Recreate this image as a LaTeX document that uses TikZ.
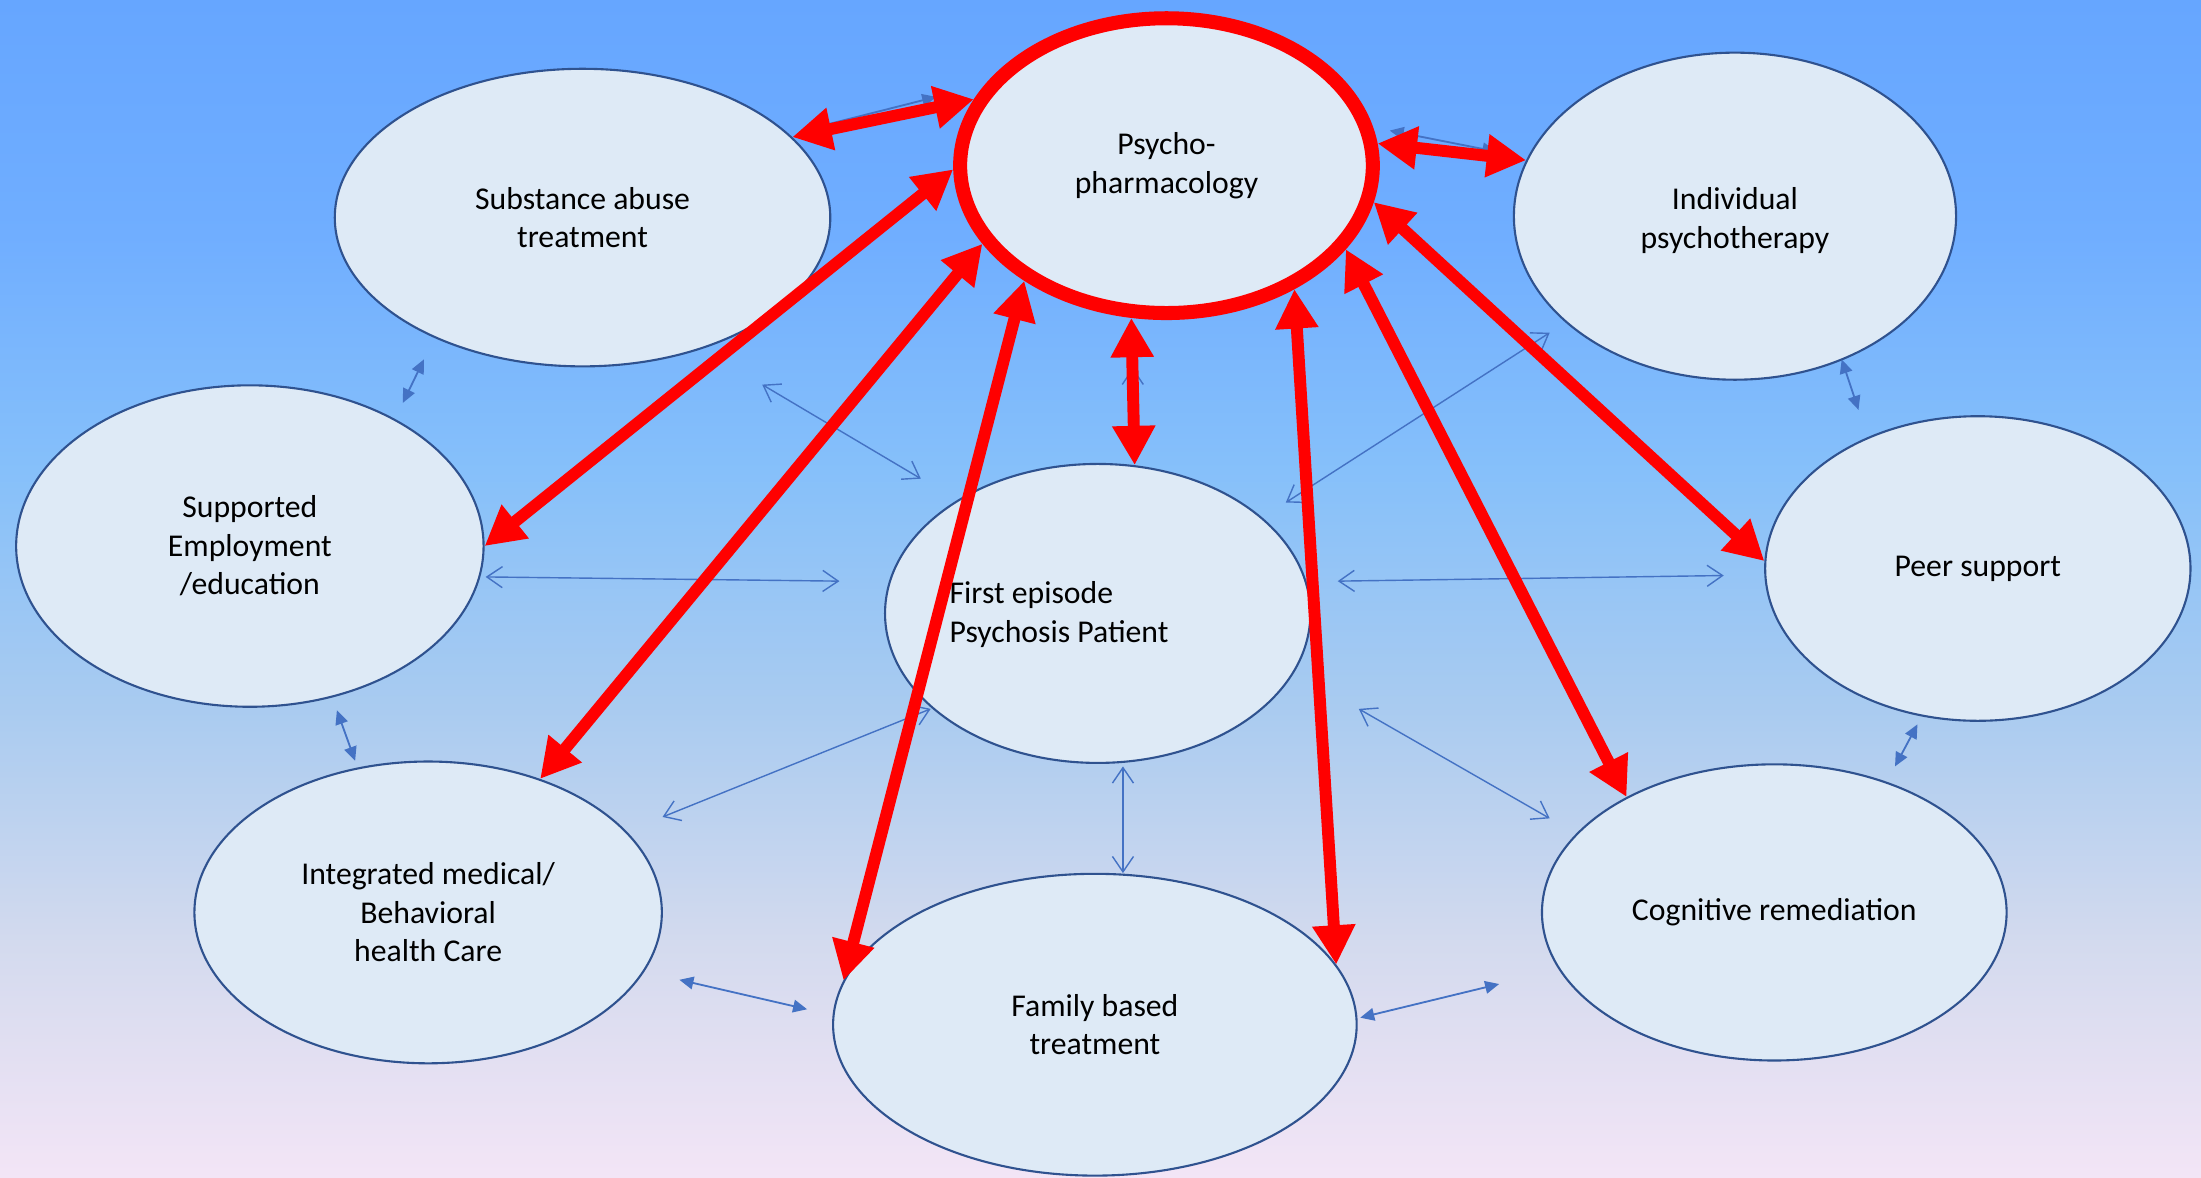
\documentclass[tikz,border=0pt]{standalone}
\usepackage{fontspec}
\setmainfont{Carlito}
\usetikzlibrary{shapes.geometric,arrows.meta}
\definecolor{bgA}{HTML}{66A6FF}
\definecolor{bgF}{HTML}{70AEFF}
\definecolor{bgB}{HTML}{86C0FA}
\definecolor{bgC}{HTML}{A9CBF0}
\definecolor{bgD}{HTML}{D3DAEE}
\definecolor{bgE}{HTML}{F3E5F6}
\definecolor{bubfill}{HTML}{DEEAF6}
\definecolor{bubline}{HTML}{2F528F}
\definecolor{thinblue}{HTML}{4472C4}
\pgfdeclareverticalshading{bgshade}{100bp}{color(0bp)=(bgE); color(25bp)=(bgE); color(35bp)=(bgD); color(45bp)=(bgC); color(55bp)=(bgB); color(65bp)=(bgF); color(75bp)=(bgA); color(100bp)=(bgA)}
\begin{document}
\begin{tikzpicture}[x=1pt,y=-1pt,
  txt/.style={font=\fontsize{22.6}{27.5}\selectfont, align=center, text=black},
  bubble/.style={ellipse, draw=bubline, line width=1.5pt, fill=bubfill, inner sep=0pt, txt},
  hub/.style={ellipse, draw=red, line width=10pt, fill=bubfill, inner sep=0pt, txt},
  redarrow/.style={draw=red, line width=8.5pt, arrows={Triangle[length=28pt,width=29pt]-Triangle[length=28pt,width=29pt]}},
  filledarrow/.style={draw=thinblue, line width=1.3pt, arrows={Triangle[length=10pt,width=9pt]-Triangle[length=10pt,width=9pt]}},
  openarrow/.style={draw=thinblue, line width=1pt, arrows={Straight Barb[length=11pt,width=15pt]-Straight Barb[length=11pt,width=15pt]}}
]
\shade[shading=bgshade] (0,0) rectangle (1568,839);
\useasboundingbox (0,0) rectangle (1568,839);

% ellipses
\node[hub, minimum width=294pt, minimum height=210pt] (psy) at (831,118) {Psycho-\\pharmacology};
\node[bubble, minimum width=353pt, minimum height=212pt] (sub) at (415,155) {Substance abuse\\treatment};
\node[bubble, minimum width=315pt, minimum height=233pt] (ind) at (1236,154) {};
\node[txt] (indlbl) at (1236,157) {Individual\\psychotherapy};
\node[bubble, minimum width=333pt, minimum height=229pt] (sup) at (178,389) {Supported\\Employment\\/education};
\node[bubble, minimum width=303pt, minimum height=213pt] (first) at (782,437) {};
\node[txt, align=left, anchor=west] (firstlbl) at (673,438) {First episode\\Psychosis Patient};
\node[bubble, minimum width=303pt, minimum height=217pt] (peer) at (1409,405) {Peer support};
\node[bubble, minimum width=333pt, minimum height=215pt] (int) at (305,650) {Integrated medical/\\Behavioral\\health Care};
\node[bubble, minimum width=373pt, minimum height=215pt] (fam) at (780,730) {Family based\\treatment};
\node[bubble, minimum width=331pt, minimum height=211pt] (cog) at (1264,650) {Cognitive remediation};

% thin connector end points
\coordinate (f1a) at (576,92);   \coordinate (f1b) at (667,69);
\coordinate (f2a) at (990,93);   \coordinate (f2b) at (1066,108);
\coordinate (f3a) at (302,256);  \coordinate (f3b) at (287,287);
\coordinate (f4a) at (1312,256); \coordinate (f4b) at (1324,292);
\coordinate (f5a) at (240,506);  \coordinate (f5b) at (253,542);
\coordinate (f6a) at (1366,516); \coordinate (f6b) at (1350,546);
\coordinate (f7a) at (484,698);  \coordinate (f7b) at (575,719);
\coordinate (f8a) at (969,725);  \coordinate (f8b) at (1068,701);
\coordinate (o1a) at (346,411);  \coordinate (o1b) at (598,414);
\coordinate (o2a) at (953,414);  \coordinate (o2b) at (1228,410);
\coordinate (o3a) at (543,274);  \coordinate (o3b) at (656,341);
\coordinate (o4a) at (916,358);  \coordinate (o4b) at (1104,237);
\coordinate (o5a) at (472,582);  \coordinate (o5b) at (663,505);
\coordinate (o6a) at (968,505);  \coordinate (o6b) at (1104,583);
\coordinate (o7a) at (800,546);  \coordinate (o7b) at (800,622);
\coordinate (o8a) at (807,262);  \coordinate (o8b) at (807,318);

% thin blue connectors
\draw[filledarrow] (f1a) -- (f1b);
\draw[filledarrow] (f2a) -- (f2b);
\draw[filledarrow] (f3a) -- (f3b);
\draw[filledarrow] (f4a) -- (f4b);
\draw[filledarrow] (f5a) -- (f5b);
\draw[filledarrow] (f6a) -- (f6b);
\draw[filledarrow] (f7a) -- (f7b);
\draw[filledarrow] (f8a) -- (f8b);
\draw[openarrow] (o1a) -- (o1b);
\draw[openarrow] (o2a) -- (o2b);
\draw[openarrow] (o3a) -- (o3b);
\draw[openarrow] (o4a) -- (o4b);
\draw[openarrow] (o5a) -- (o5b);
\draw[openarrow] (o6a) -- (o6b);
\draw[openarrow] (o7a) -- (o7b);
\draw[openarrow] (o8a) -- (o8b);

% red connectors
\draw[redarrow] (psy.161.6) -- (sub.21);
\draw[redarrow] (psy.6.6) -- (ind.165.8);
\draw[redarrow] (psy.181.8) -- (sup.0.7);
\draw[redarrow] (psy.203.3) -- (int.50.2);
\draw[redarrow] (psy.219.3) -- (fam.170.4);
\draw[redarrow] (psy.257.9) -- (first.76.8);
\draw[redarrow] (psy.316.7) -- (fam.14.3);
\draw[redarrow] (psy.335.3) -- (cog.142.6);
\draw[redarrow] (psy.350.2) -- (peer.178.9);
\end{tikzpicture}
\end{document}
